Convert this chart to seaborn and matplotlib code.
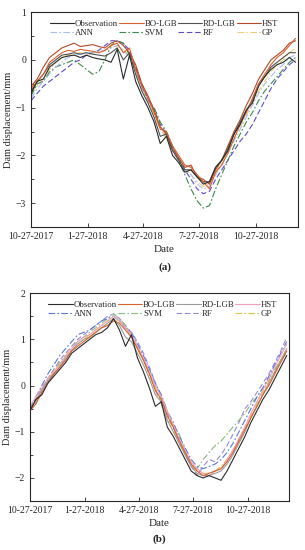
import pandas as pd
import seaborn as sns
import matplotlib.pyplot as plt
from matplotlib.lines import Line2D
from matplotlib.ticker import MultipleLocator

sns.set_theme(style="ticks")
plt.rcParams['font.family'] = ['Liberation Serif', 'DejaVu Serif']

# sampled every 10 days from 10-27-2017
dates = pd.date_range("2017-10-27", periods=44, freq="10D")
tick_labels = ["10-27-2017", "1-27-2018", "4-27-2018", "7-27-2018", "10-27-2018"]
models = ["Observation", "BO-LGB", "RD-LGB", "HST", "ANN", "SVM", "RF", "GP"]

# panel (a)
obs_a = [-0.70, -0.45, -0.40, -0.15, -0.05, 0.05, 0.08, 0.10, 0.05, 0.10, 0.05, 0.02, 0.00, -0.05, 0.22,
         -0.40, 0.10, -0.45, -0.75, -1.00, -1.30, -1.75, -1.60, -2.00, -2.15, -2.35, -2.30, -2.45, -2.60,
         -2.55, -2.25, -2.10, -1.90, -1.55, -1.35, -1.05, -0.90, -0.55, -0.35, -0.20, -0.10, -0.05, 0.05, -0.05]
bo_a = [-0.60, -0.45, -0.30, -0.05, 0.05, 0.15, 0.20, 0.18, 0.22, 0.20, 0.18, 0.15, 0.20, 0.30, 0.35,
        0.15, 0.25, -0.20, -0.55, -0.80, -1.10, -1.45, -1.50, -1.80, -2.00, -2.20, -2.25, -2.40, -2.55,
        -2.70, -2.35, -2.20, -1.95, -1.65, -1.35, -1.10, -0.80, -0.50, -0.30, -0.10, 0.05, 0.15, 0.30, 0.45]
rd_a = [-0.65, -0.45, -0.30, -0.10, 0.00, 0.10, 0.12, 0.15, 0.12, 0.15, 0.12, 0.10, 0.08, 0.15, 0.25,
        0.00, 0.15, -0.30, -0.65, -0.90, -1.20, -1.60, -1.55, -1.90, -2.10, -2.30, -2.30, -2.45, -2.55,
        -2.55, -2.25, -2.10, -1.85, -1.55, -1.30, -1.05, -0.85, -0.50, -0.35, -0.15, -0.05, 0.05, 0.15, 0.15]
hst_a = [-0.55, -0.40, -0.15, 0.05, 0.15, 0.25, 0.30, 0.35, 0.28, 0.30, 0.32, 0.28, 0.25, 0.35, 0.40,
         0.30, 0.15, -0.10, -0.50, -0.75, -1.05, -1.40, -1.55, -1.85, -2.05, -2.25, -2.20, -2.45, -2.50,
         -2.60, -2.30, -2.10, -1.80, -1.50, -1.25, -0.95, -0.70, -0.40, -0.20, 0.00, 0.10, 0.20, 0.35, 0.40]
ann_a = [-0.80, -0.60, -0.45, -0.30, -0.15, -0.05, 0.05, 0.10, 0.12, 0.15, 0.15, 0.18, 0.20, 0.25, 0.30,
         0.20, 0.05, -0.25, -0.60, -0.85, -1.10, -1.40, -1.60, -1.90, -2.10, -2.30, -2.40, -2.60, -2.70,
         -2.65, -2.40, -2.20, -1.95, -1.70, -1.45, -1.20, -0.95, -0.70, -0.50, -0.35, -0.20, -0.10, 0.05, 0.10]
svm_a = [-0.75, -0.50, -0.45, -0.25, -0.15, -0.10, -0.05, 0.00, -0.10, -0.20, -0.30, -0.25, 0.00, 0.30, 0.40,
         0.35, 0.10, -0.20, -0.55, -0.85, -1.00, -1.30, -1.50, -1.80, -2.10, -2.40, -2.70, -2.95, -3.10,
         -3.05, -2.70, -2.40, -2.10, -1.80, -1.55, -1.30, -1.10, -0.85, -0.65, -0.50, -0.35, -0.20, -0.05, 0.05]
rf_a = [-0.85, -0.70, -0.55, -0.45, -0.35, -0.25, -0.15, -0.05, 0.00, 0.10, 0.15, 0.20, 0.30, 0.40, 0.40,
        0.35, 0.20, -0.15, -0.50, -0.80, -1.05, -1.35, -1.55, -1.85, -2.05, -2.30, -2.50, -2.70, -2.80,
        -2.75, -2.50, -2.30, -2.10, -1.90, -1.70, -1.55, -1.35, -1.10, -0.85, -0.60, -0.40, -0.25, -0.10, 0.00]
gp_a = [-0.70, -0.55, -0.40, -0.20, -0.05, 0.05, 0.10, 0.12, 0.15, 0.12, 0.15, 0.15, 0.20, 0.25, 0.30,
        0.20, 0.10, -0.20, -0.55, -0.85, -1.15, -1.45, -1.65, -1.90, -2.10, -2.30, -2.40, -2.55, -2.65,
        -2.60, -2.35, -2.15, -1.90, -1.65, -1.40, -1.15, -0.90, -0.65, -0.45, -0.25, -0.10, 0.00, 0.15, 0.25]

# panel (b)
obs_b = [-0.55, -0.30, -0.20, 0.05, 0.20, 0.35, 0.50, 0.70, 0.80, 0.90, 1.00, 1.10, 1.15, 1.25, 1.45,
         1.20, 0.85, 1.10, 0.60, 0.30, -0.05, -0.45, -0.35, -0.90, -1.10, -1.35, -1.60, -1.85, -1.95,
         -2.00, -1.95, -2.00, -2.05, -1.85, -1.60, -1.35, -1.10, -0.80, -0.55, -0.30, -0.10, 0.15, 0.40, 0.65]
bo_b = [-0.55, -0.40, -0.15, 0.05, 0.25, 0.40, 0.55, 0.75, 0.85, 0.95, 1.05, 1.15, 1.25, 1.30, 1.40,
        1.35, 1.20, 1.05, 0.80, 0.55, 0.25, -0.10, -0.30, -0.65, -0.90, -1.20, -1.45, -1.70, -1.85,
        -1.95, -1.90, -1.85, -1.80, -1.65, -1.45, -1.20, -0.95, -0.70, -0.45, -0.20, 0.00, 0.25, 0.50, 0.75]
rd_b = [-0.50, -0.35, -0.10, 0.10, 0.25, 0.40, 0.60, 0.75, 0.90, 1.00, 1.05, 1.15, 1.25, 1.35, 1.45,
        1.30, 1.05, 0.95, 0.70, 0.45, 0.15, -0.20, -0.35, -0.75, -1.00, -1.25, -1.50, -1.75, -1.90,
        -1.95, -1.95, -1.90, -1.85, -1.70, -1.50, -1.25, -1.00, -0.70, -0.45, -0.20, 0.05, 0.30, 0.55, 0.80]
hst_b = [-0.45, -0.25, -0.05, 0.15, 0.30, 0.45, 0.65, 0.80, 0.95, 1.05, 1.10, 1.20, 1.30, 1.40, 1.50,
         1.40, 1.25, 1.10, 0.85, 0.60, 0.30, 0.00, -0.25, -0.55, -0.85, -1.15, -1.40, -1.65, -1.80,
         -1.90, -1.95, -1.85, -1.80, -1.60, -1.40, -1.15, -0.90, -0.60, -0.35, -0.10, 0.15, 0.40, 0.65, 0.90]
ann_b = [-0.50, -0.25, 0.00, 0.25, 0.45, 0.65, 0.80, 0.95, 1.10, 1.15, 1.20, 1.30, 1.40, 1.45, 1.50,
         1.40, 1.25, 1.15, 0.90, 0.65, 0.35, 0.05, -0.20, -0.55, -0.80, -1.10, -1.35, -1.60, -1.75,
         -1.80, -1.75, -1.70, -1.60, -1.45, -1.25, -1.00, -0.75, -0.50, -0.25, -0.05, 0.20, 0.45, 0.70, 0.95]
svm_b = [-0.55, -0.35, -0.10, 0.10, 0.30, 0.50, 0.65, 0.80, 0.95, 1.05, 1.15, 1.25, 1.35, 1.45, 1.55,
         1.45, 1.30, 1.10, 0.85, 0.55, 0.25, -0.10, -0.40, -0.75, -0.85, -1.05, -1.40, -1.70, -1.80,
         -1.60, -1.45, -1.30, -1.20, -1.05, -0.90, -0.75, -0.60, -0.40, -0.25, -0.05, 0.15, 0.35, 0.55, 0.70]
rf_b = [-0.50, -0.30, -0.05, 0.15, 0.35, 0.55, 0.70, 0.85, 1.00, 1.10, 1.20, 1.30, 1.40, 1.50, 1.55,
        1.45, 1.30, 1.15, 0.95, 0.70, 0.40, 0.05, -0.25, -0.60, -0.90, -1.20, -1.50, -1.75, -1.95,
        -1.75, -1.60, -1.65, -1.50, -1.30, -1.05, -0.80, -0.50, -0.35, -0.15, 0.05, 0.25, 0.50, 0.75, 1.05]
gp_b = [-0.50, -0.30, -0.10, 0.10, 0.30, 0.45, 0.60, 0.75, 0.90, 1.00, 1.10, 1.20, 1.30, 1.40, 1.45,
        1.40, 1.25, 1.05, 0.80, 0.55, 0.25, -0.05, -0.35, -0.65, -0.95, -1.25, -1.50, -1.70, -1.85,
        -1.90, -1.90, -1.85, -1.75, -1.60, -1.40, -1.15, -0.90, -0.65, -0.40, -0.15, 0.10, 0.30, 0.55, 0.75]

colors_a = ["#2a2a2a", "#d8602c", "#505050", "#b04a2a", "#a8c0e8", "#3c8a4c", "#5a4ccc", "#e8cf7a"]
colors_b = ["#2a2a2a", "#d8602c", "#9a9a9a", "#f0a0b8", "#5a78d8", "#8ab87a", "#9a8ad8", "#d8c84a"]
dashes = {"Observation": "", "BO-LGB": "", "RD-LGB": "", "HST": "",
          "ANN": (6, 2, 1.5, 2), "SVM": (6, 2, 1.5, 2), "RF": (5, 2.5), "GP": (6, 2, 1.5, 2)}


def long_frame(series):
    frames = []
    for name, vals in zip(models, series):
        frames.append(pd.DataFrame({"date": dates, "value": vals, "model": name}))
    return pd.concat(frames, ignore_index=True)


def draw(ax, df, colors, ylim, tag):
    palette = dict(zip(models, colors))
    sns.lineplot(df, x="date", y="value", hue="model", style="model",
                 palette=palette, dashes=dashes, legend=False,
                 linewidth=0.8, ax=ax, hue_order=models[::-1], style_order=models[::-1])
    ax.set_ylim(*ylim)
    ax.set_xlim(pd.Timestamp("2017-10-27"), pd.Timestamp("2019-01-04"))
    ticks = [pd.to_datetime(t, format="%m-%d-%Y") for t in tick_labels]
    ax.set_xticks(ticks)
    ax.set_xticklabels(tick_labels, fontsize=6.5)
    ax.yaxis.set_major_locator(MultipleLocator(1))
    ax.yaxis.set_minor_locator(MultipleLocator(0.5))
    ax.tick_params(axis="both", which="both", direction="in", labelsize=7, width=0.6)
    ax.tick_params(axis="both", which="major", length=3)
    ax.tick_params(axis="y", which="minor", length=1.8)
    for sp in ax.spines.values():
        sp.set_linewidth(0.8)
        sp.set_visible(True)
    ax.set_xlabel("Date", fontsize=8, labelpad=3)
    ax.set_ylabel("Dam displacement/mm", fontsize=7.5, labelpad=2)
    # legend fills column by column, so interleave the two rows
    row_major = [models[i] for i in (0, 4, 1, 5, 2, 6, 3, 7)]
    handles = []
    for m in row_major:
        d = dashes[m]
        h = Line2D([], [], color=palette[m], lw=0.8)
        if d:
            h.set_dashes(d)
        handles.append(h)
    ax.legend(handles, row_major, ncol=4, frameon=False, fontsize=6.3,
              loc="upper left", bbox_to_anchor=(0.04, 1.0), handlelength=2.8,
              handletextpad=0.1, columnspacing=0.1, labelspacing=0.1)
    ax.text(0.5, -0.185, tag, transform=ax.transAxes, ha="center", va="center",
            fontsize=8, fontweight="bold")


fig = plt.figure(figsize=(3.05, 5.5), dpi=100)
ax1 = fig.add_axes([0.102, 0.587, 0.875, 0.391])
ax2 = fig.add_axes([0.098, 0.089, 0.850, 0.378])

draw(ax1, long_frame([obs_a, bo_a, rd_a, hst_a, ann_a, svm_a, rf_a, gp_a]), colors_a, (-3.5, 1.0), "(a)")
draw(ax2, long_frame([obs_b, bo_b, rd_b, hst_b, ann_b, svm_b, rf_b, gp_b]), colors_b, (-2.5, 2.0), "(b)")

fig.savefig("out.png", dpi=100)
